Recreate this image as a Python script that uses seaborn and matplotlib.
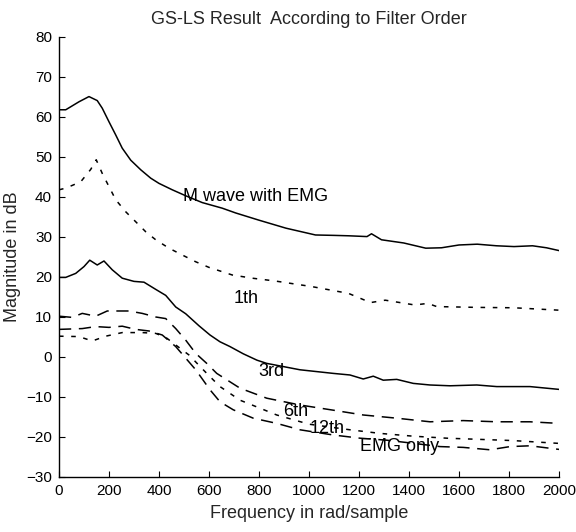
import matplotlib
matplotlib.use("Agg")
import matplotlib.pyplot as plt
import seaborn as sns

# values (frequency in rad/sample, magnitude in dB)
mwave_x = [0, 27, 80, 120, 153, 173, 200, 227, 253, 287, 327, 367, 400, 453, 507, 573, 653,
           707, 800, 908, 1026, 1100, 1158, 1232, 1250, 1290, 1379, 1467, 1530, 1600, 1673,
           1750, 1820, 1894, 1950, 2000]
mwave_y = [61.8, 61.8, 63.8, 65.1, 64.1, 62.2, 58.8, 55.5, 52.2, 49.2, 46.8, 44.7, 43.4,
           41.8, 40.3, 38.6, 37.2, 36.0, 34.2, 32.2, 30.5, 30.4, 30.3, 30.1, 30.8, 29.3, 28.5,
           27.2, 27.3, 28.0, 28.2, 27.8, 27.6, 27.8, 27.3, 26.6]

first_x = [0, 27, 87, 127, 149, 173, 200, 227, 267, 307, 347, 387, 440, 493, 547, 600, 693,
           773, 864, 1011, 1158, 1246, 1305, 1423, 1475, 1511, 1673, 1820, 2000]
first_y = [41.8, 42.2, 43.8, 46.9, 49.3, 45.9, 42.6, 39.3, 36.3, 33.8, 31.3, 29.3, 27.2,
           25.5, 23.8, 22.4, 20.5, 19.7, 19.0, 17.6, 15.9, 13.6, 14.2, 13.0, 13.4, 12.6,
           12.4, 12.3, 11.7]

third_x = [0, 27, 67, 100, 123, 153, 180, 213, 253, 300, 340, 387, 427, 467, 507, 560, 604,
           644, 684, 737, 792, 831, 964, 1097, 1164, 1217, 1257, 1297, 1351, 1417, 1484,
           1564, 1671, 1751, 1884, 2000]
third_y = [19.9, 19.9, 20.9, 22.6, 24.2, 23.0, 24.0, 21.8, 19.7, 18.9, 18.7, 16.9, 15.4,
           12.5, 10.8, 7.8, 5.5, 3.8, 2.6, 0.8, -0.8, -1.6, -3.2, -4.1, -4.5, -5.5, -4.8,
           -5.8, -5.6, -6.6, -7.0, -7.2, -7.0, -7.4, -7.4, -8.1]

sixth_x = [0, 53, 93, 147, 193, 280, 333, 387, 427, 467, 507, 547, 591, 631, 724, 831, 964,
           1097, 1217, 1351, 1484, 1617, 1751, 1884, 2000]
sixth_y = [10.2, 9.9, 10.9, 10.2, 11.5, 11.5, 10.9, 10.0, 9.6, 7.1, 4.2, 0.9, -1.6, -4.1,
           -7.8, -10.3, -12.0, -13.3, -14.5, -15.3, -16.2, -15.9, -16.2, -16.2, -16.6]

twelfth_x = [0, 80, 133, 187, 253, 333, 387, 427, 467, 520, 591, 644, 724, 804, 871, 1000,
             1164, 1284, 1417, 1551, 1684, 1817, 2000]
twelfth_y = [5.2, 5.1, 4.0, 5.2, 6.1, 6.1, 5.9, 4.9, 3.0, 0.5, -4.1, -7.4, -10.8, -12.8,
             -14.5, -16.8, -18.2, -19.1, -19.8, -20.3, -20.6, -20.9, -21.6]

emg_x = [0, 93, 147, 200, 253, 307, 360, 413, 467, 507, 547, 604, 644, 697, 777, 871, 964,
         1097, 1204, 1311, 1420, 1524, 1617, 1724, 1804, 1884, 2000]
emg_y = [6.9, 7.1, 7.6, 7.4, 7.7, 6.9, 6.5, 5.5, 2.6, -0.3, -3.2, -8.2, -11.2, -13.2,
         -15.3, -16.6, -18.2, -19.5, -20.3, -20.8, -21.6, -22.4, -22.6, -23.2, -22.4,
         -22.2, -23.1]

labels = ["M wave with EMG", "1th", "3rd", "6th", "12th", "EMG only"]
label_x = [496, 700, 797, 897, 1004, 1204]
label_y = [40.0, 14.6, -3.7, -13.7, -17.9, -22.5]

x_ticks = [0, 200, 400, 600, 800, 1000, 1200, 1400, 1600, 1800, 2000]
y_ticks = [-30, -20, -10, 0, 10, 20, 30, 40, 50, 60, 70, 80]

sns.set_style("ticks")
plt.rcParams["font.family"] = ["Liberation Sans", "DejaVu Sans"]
plt.rcParams["xtick.direction"] = "in"
plt.rcParams["ytick.direction"] = "in"

fig = plt.figure(figsize=(5.76, 5.32), dpi=100)
ax = fig.add_axes([0.1024, 0.1034, 0.8681, 0.8271])

series = [
    (mwave_x, mwave_y, "-"),
    (first_x, first_y, (0, (3, 5))),
    (third_x, third_y, "-"),
    (sixth_x, sixth_y, (0, (8, 5))),
    (twelfth_x, twelfth_y, (0, (3, 5))),
    (emg_x, emg_y, (0, (8, 5))),
]
for xs, ys, ls in series:
    sns.lineplot(x=xs, y=ys, ax=ax, color="black", linewidth=1.1, linestyle=ls)

for txt, tx, ty in zip(labels, label_x, label_y):
    ax.text(tx, ty, txt, fontsize=13, va="center", ha="left", color="black")

ax.set_xlim(0, 2000)
ax.set_ylim(-30, 80)
ax.set_xticks(x_ticks)
ax.set_yticks(y_ticks)
ax.tick_params(labelsize=11, length=4, width=0.8, colors="black", pad=5)
sns.despine(ax=ax)
for s in ["left", "bottom"]:
    ax.spines[s].set_color("black")
    ax.spines[s].set_linewidth(1.0)

ax.set_title("GS-LS Result  According to Filter Order", fontsize=13, pad=9)
ax.set_xlabel("Frequency in rad/sample", fontsize=13, labelpad=5)
ax.set_ylabel("Magnitude in dB", fontsize=13, labelpad=4)

fig.savefig("out.png", dpi=100)
